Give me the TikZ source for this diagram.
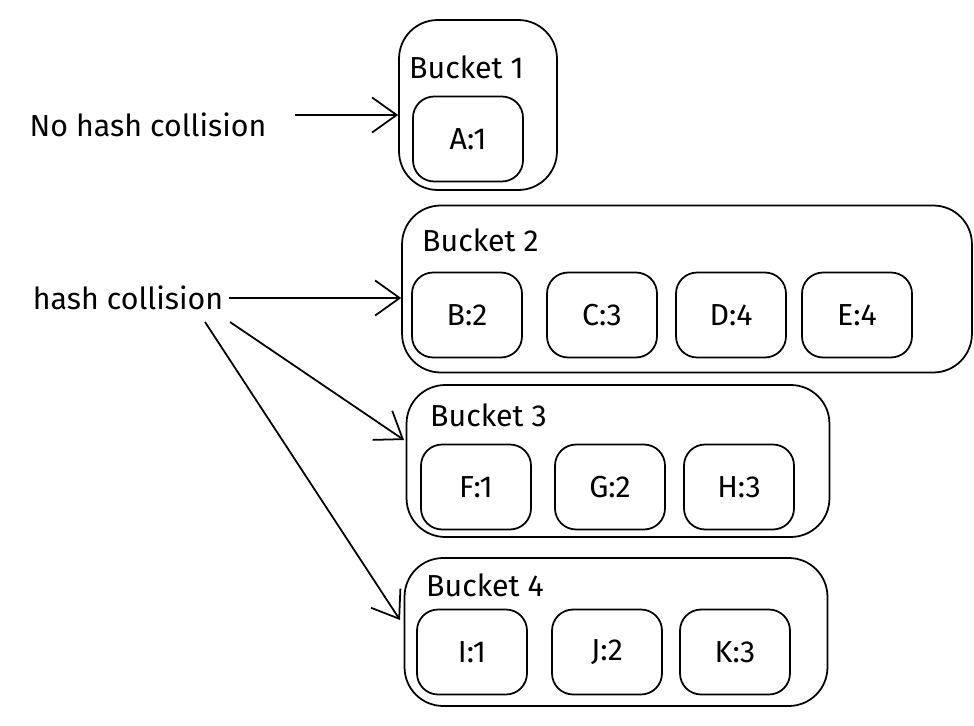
\documentclass[tikz,border=0pt]{standalone}
\usepackage{fontspec}
\setmainfont{Fira Sans}
\usetikzlibrary{arrows.meta,positioning}
\tikzset{bucket/.style={draw, rounded corners=22pt, line width=1pt, inner sep=0pt}}
\tikzset{item/.style={draw, rounded corners=12pt, line width=1pt, minimum width=2.2cm, minimum height=1.7cm, font=\LARGE}}
\tikzset{lbl/.style={font=\LARGE, anchor=west}}
\begin{document}
\begin{tikzpicture}[x=0.02cm, y=-0.02cm, >={Straight Barb[length=14pt,width=20pt]}]
\useasboundingbox (0,0) rectangle (974,726);
\node[bucket, minimum width=3.16cm, minimum height=3.4cm] (B1) at (478,105) {};
\node[bucket, minimum width=11.4cm, minimum height=3.34cm] (B2) at (687,289) {};
\node[bucket, minimum width=8.46cm, minimum height=3.04cm] (B3) at (618,461) {};
\node[bucket, minimum width=8.46cm, minimum height=2.96cm] (B4) at (616,632) {};
\node[lbl] (L1) at (403,67) {Bucket 1};
\node[lbl] (L2) at (416,240) {Bucket 2};
\node[lbl] (L3) at (424,415) {Bucket 3};
\node[lbl] (L4) at (420,585) {Bucket 4};
\node[item] (A) at (468,139) {A:1};
\node[item] (B) at (467,315) {B:2};
\node[item] (C) at (602,315) {C:3};
\node[item] (D) at (731,315) {D:4};
\node[item] (E) at (857,315) {E:4};
\node[item] (F) at (476,487) {F:1};
\node[item] (G) at (610,487) {G:2};
\node[item] (H) at (739,487) {H:3};
\node[item] (I) at (472,652) {I:1};
\node[item] (J) at (607,652) {J:2};
\node[item] (K) at (735,652) {K:3};
\node[font=\LARGE] (nohash) at (148,125) {No hash collision};
\node[font=\LARGE] (hash) at (128,298) {hash collision};
\coordinate (n1) at (295,115);
\coordinate (h1) at (230,322);
\coordinate (h2) at (205,322);
\draw[->, line width=1pt] (n1) -- (B1.west |- n1);
\draw[->, line width=1pt] (hash.east) -- (B2.west |- hash.east);
\draw[->, line width=1pt] (h1) -- (404,440);
\draw[->, line width=1pt] (h2) -- (400,620);
\end{tikzpicture}
\end{document}
